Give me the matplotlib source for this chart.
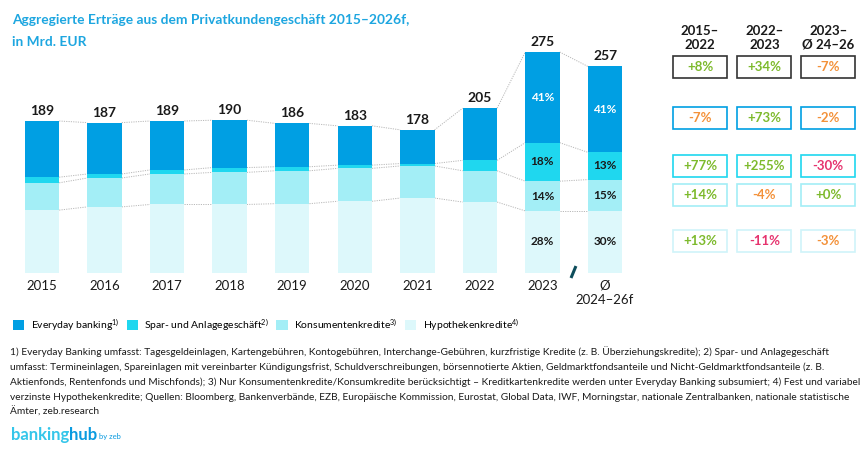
import matplotlib
matplotlib.use('Agg')
import matplotlib.pyplot as plt
from matplotlib.patches import Patch, Rectangle
import numpy as np

# ---------------- data ----------------
categories = ['2015', '2016', '2017', '2018', '2019', '2020', '2021', '2022', '2023', 'Ø\n2024–26f']
everyday = [70, 64, 61, 59, 54, 49, 42, 65, 113, 107]
spar = [7, 5, 5, 6, 5, 4, 3, 13, 48, 34]
konsum = [34, 36, 38, 40, 41, 41, 40, 39, 37, 39]
hypo = [78, 82, 85, 85, 86, 89, 93, 88, 77, 77]
totals = [189, 187, 189, 190, 186, 183, 178, 205, 275, 257]
share_2023 = ['41%', '18%', '14%', '28%']
share_fc = ['41%', '13%', '15%', '30%']

series_names = ['Everyday banking$^{1)}$', 'Spar- und Anlagegeschäft$^{2)}$',
                'Konsumentenkredite$^{3)}$', 'Hypothekenkredite$^{4)}$']
col_headers = ['2015–\n2022', '2022–\n2023', '2023–\nØ 24–26']
growth_total = ['+8%', '+34%', '-7%']
growth_everyday = ['-7%', '+73%', '-2%']
growth_spar = ['+77%', '+255%', '-30%']
growth_konsum = ['+14%', '-4%', '+0%']
growth_hypo = ['+13%', '-11%', '-3%']

title_lines = ['Aggregierte Erträge aus dem Privatkundengeschäft 2015–2026f,', 'in Mrd. EUR']
footnote_lines = [
    "1) Everyday Banking umfasst: Tagesgeldeinlagen, Kartengebühren, Kontogebühren, Interchange-Gebühren, kurzfristige Kredite (z. B. Überziehungskredite); 2) Spar- und Anlagegeschäft",
    "umfasst: Termineinlagen, Spareinlagen mit vereinbarter Kündigungsfrist, Schuldverschreibungen, börsennotierte Aktien, Geldmarktfondsanteile und Nicht-Geldmarktfondsanteile (z. B.",
    "Aktienfonds, Rentenfonds und Mischfonds); 3) Nur Konsumentenkredite/Konsumkredite berücksichtigt – Kreditkartenkredite werden unter Everyday Banking subsumiert; 4) Fest und variabel",
    "verzinste Hypothekenkredite; Quellen: Bloomberg, Bankenverbände, EZB, Europäische Kommission, Eurostat, Global Data, IWF, Morningstar, nationale Zentralbanken, nationale statistische",
    "Ämter, zeb.research",
]

# ---------------- style ----------------
plt.rcParams['font.family'] = ['Lato', 'DejaVu Sans']
plt.rcParams['mathtext.fontset'] = 'custom'
plt.rcParams['mathtext.rm'] = 'Lato'
plt.rcParams['mathtext.default'] = 'regular'

C_EB = '#009FE3'
C_SP = '#1FD7EF'
C_KO = '#A3EEF6'
C_HY = '#DDF8FB'
C_TITLE = '#1DA6E0'
GREEN = '#7DBA2C'
ORANGE = '#F39139'
PINK = '#E6336E'
TEXT = '#1A1A1A'

W, H = 862, 455
fig = plt.figure(figsize=(W / 100, H / 100), dpi=100)


def fx(px):
    return px / W


def fy(py):
    return 1 - py / H


# axes geometry (pixel based)
step = 62.56
x0 = 42
base = 272.7
scale = 0.8026
ymax = 300
ax = fig.add_axes([fx(x0 - step / 2), fy(base), 10 * step / W, ymax * scale / H])
ax.set_xlim(-0.5, 9.5)
ax.set_ylim(0, ymax)

x = np.arange(len(categories))
w = 0.55
layers = [hypo, konsum, spar, everyday]
colors = [C_HY, C_KO, C_SP, C_EB]
bottom = np.zeros(len(x))
bounds = []
for vals, col in zip(layers, colors):
    ax.bar(x, vals, width=w, bottom=bottom, color=col, edgecolor='none', zorder=3)
    bottom = bottom + np.array(vals)
    bounds.append(bottom.copy())

# connector lines
for b in bounds:
    for i in range(len(x) - 1):
        ax.plot([x[i] + w / 2, x[i + 1] - w / 2], [b[i], b[i + 1]],
                color='#B8B8B8', lw=0.7, ls=(0, (1.2, 1.2)), zorder=2)

# totals
for xi, t in zip(x, totals):
    ax.text(xi, t + 5, str(t), ha='center', va='bottom', fontsize=10,
            fontweight='bold', color=TEXT)

# share labels in last two bars
for idx, shares in [(8, share_2023), (9, share_fc)]:
    lows = [0, hypo[idx], hypo[idx] + konsum[idx], hypo[idx] + konsum[idx] + spar[idx]]
    vals = [hypo[idx], konsum[idx], spar[idx], everyday[idx]]
    texts = [shares[3], shares[2], shares[1], shares[0]]
    for k in range(4):
        col = 'white' if k == 3 else TEXT
        ax.text(idx, lows[k] + vals[k] / 2, texts[k], ha='center', va='center',
                fontsize=8.5, fontweight='bold', color=col, zorder=4)

ax.set_xticks(x)
ax.set_xticklabels(categories, fontsize=9.5, color=TEXT)
ax.tick_params(axis='x', length=0, pad=5)
ax.set_yticks([])
for s in ax.spines.values():
    s.set_visible(False)

# break mark
ax.plot([8.456, 8.535], [-6.6, 8.3], color='#0D4D5B', lw=2.2,
        solid_capstyle='butt', clip_on=False, zorder=5)

# title
fig.text(fx(12), fy(20), title_lines[0], fontsize=9.9, fontweight='bold',
         color=C_TITLE, va='center', ha='left')
fig.text(fx(12), fy(42), title_lines[1], fontsize=9.9, fontweight='bold',
         color=C_TITLE, va='center', ha='left')

# growth table
col_x = [700, 764.3, 828.3]
row_y = [66.7, 118.3, 165.7, 195, 240.7]
row_edge = ['#333333', C_EB, C_SP, C_KO, '#CFF4F9']
rows = [growth_total, growth_everyday, growth_spar, growth_konsum, growth_hypo]


def growth_color(s):
    if s.startswith('+'):
        return GREEN
    v = float(s.strip('%'))
    return PINK if v <= -10 else ORANGE


for cx, hdr in zip(col_x, col_headers):
    fig.text(fx(cx), fy(38), hdr, ha='center', va='center', fontsize=9.5,
             fontweight='bold', color=TEXT, linespacing=1.15)
bw, bh = 54, 22
for ry, vals, ec in zip(row_y, rows, row_edge):
    for cx, v in zip(col_x, vals):
        fig.patches.append(Rectangle((fx(cx - bw / 2), fy(ry + bh / 2)), bw / W, bh / H,
                                     transform=fig.transFigure, facecolor='white',
                                     edgecolor=ec, lw=1.2))
        fig.text(fx(cx), fy(ry), v, ha='center', va='center', fontsize=9.5,
                 fontweight='bold', color=growth_color(v))

# legend
handles = [Patch(facecolor=c, edgecolor='none') for c in [C_EB, C_SP, C_KO, C_HY]]
fig.legend(handles, series_names, loc='center left', bbox_to_anchor=(fx(13), fy(325)),
           ncol=4, frameon=False, fontsize=7.5, handlelength=1.1, handleheight=1.1,
           handletextpad=0.6, columnspacing=0.7, borderaxespad=0, borderpad=0)

# footnote (one text per line, 15 px apart)
for i, line in enumerate(footnote_lines):
    fig.text(fx(10), fy(352 + 15 * i), line, ha='left', va='center', fontsize=7.25,
             color=TEXT)

# logo
r = fig.canvas.get_renderer()
t1 = fig.text(fx(11), fy(435), 'banking', ha='left', va='center', fontsize=12,
              fontweight='bold', color='#35C6EA')
bb = t1.get_window_extent(renderer=r)
t2 = fig.text(bb.x1 / W, fy(435), 'hub', ha='left', va='center', fontsize=12,
              fontweight='bold', color='#0A9BE0')
bb2 = t2.get_window_extent(renderer=r)
fig.text(bb2.x1 / W + 2 / W, fy(437), 'by zeb', ha='left', va='center', fontsize=5.5,
         color='#0A9BE0')

fig.savefig('out.png', dpi=100)
